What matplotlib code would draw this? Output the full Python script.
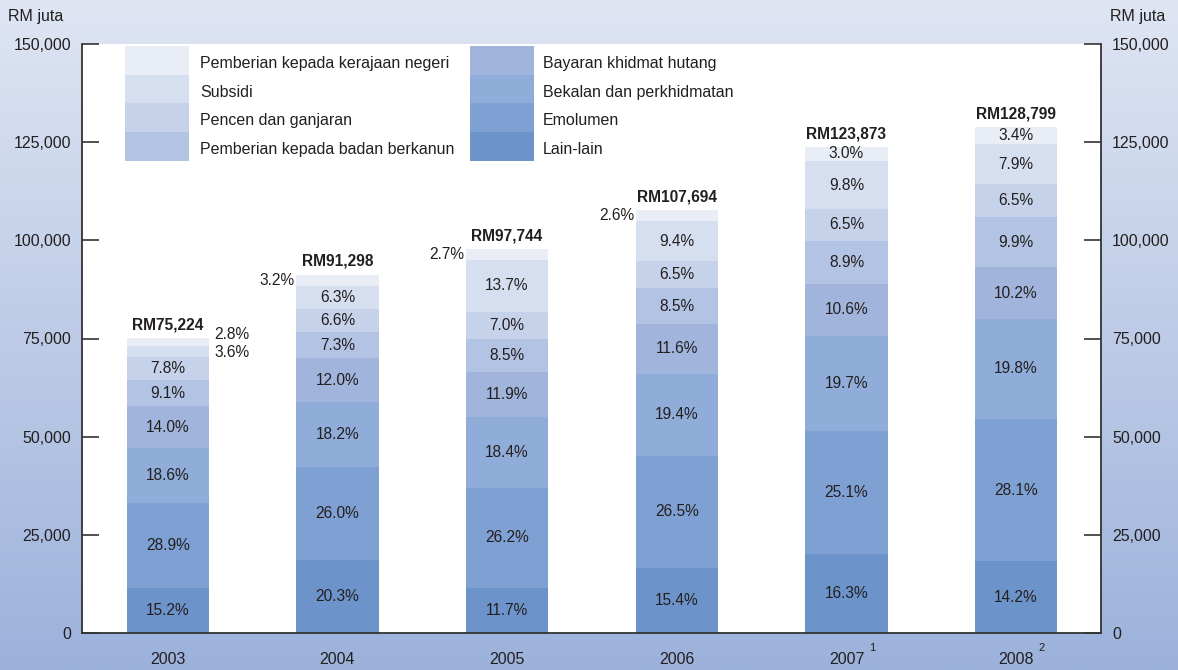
import numpy as np
import matplotlib.pyplot as plt
from matplotlib.colors import LinearSegmentedColormap
from matplotlib.patches import Rectangle

plt.rcParams['font.family'] = ['Liberation Sans', 'DejaVu Sans']

years = ['2003', '2004', '2005', '2006', '2007', '2008']
notes = ['', '', '', '', '1', '2']
totals = [75224, 91298, 97744, 107694, 123873, 128799]

# shares in %, bottom of the stack first
lain_lain = [15.2, 20.3, 11.7, 15.4, 16.3, 14.2]
emolumen = [28.9, 26.0, 26.2, 26.5, 25.1, 28.1]
bekalan = [18.6, 18.2, 18.4, 19.4, 19.7, 19.8]
hutang = [14.0, 12.0, 11.9, 11.6, 10.6, 10.2]
badan_berkanun = [9.1, 7.3, 8.5, 8.5, 8.9, 9.9]
pencen = [7.8, 6.6, 7.0, 6.5, 6.5, 6.5]
subsidi = [3.6, 6.3, 13.7, 9.4, 9.8, 7.9]
kerajaan_negeri = [2.8, 3.2, 2.7, 2.6, 3.0, 3.4]

categories = ['Lain-lain', 'Emolumen', 'Bekalan dan perkhidmatan',
              'Bayaran khidmat hutang', 'Pemberian kepada badan berkanun',
              'Pencen dan ganjaran', 'Subsidi',
              'Pemberian kepada kerajaan negeri']
shares = [lain_lain, emolumen, bekalan, hutang, badan_berkanun, pencen,
          subsidi, kerajaan_negeri]

colors = ['#6c94cb', '#7fa0d3', '#90acd8', '#a1b5dc', '#b2c3e3', '#c5d2e9',
          '#d6dff0', '#e8edf6']

# labels drawn beside the bar: (year, segment) -> (side, dy in points)
outside = {(0, 7): ('right', 5), (0, 6): ('right', -1),
           (1, 7): ('left', 0), (2, 7): ('left', 0), (3, 7): ('left', 0)}

W, H = 1178, 670
fig = plt.figure(figsize=(W / 100, H / 100), dpi=100)

# gradient background
bg = fig.add_axes([0, 0, 1, 1], zorder=-10)
cmap = LinearSegmentedColormap.from_list('bg', ['#dfe5f3', '#9cb2db'])
bg.imshow(np.linspace(0, 1, 256).reshape(-1, 1), aspect='auto', cmap=cmap,
          extent=[0, 1, 0, 1])
bg.axis('off')

def fx(x):
    return x / W

def fy(y):
    return 1 - y / H

ax = fig.add_axes([fx(82), fy(633), fx(1101) - fx(82), fy(44) - fy(633)])
ax.set_facecolor('white')

pct_size = 11.2
x = np.arange(len(years))
sums = np.sum(shares, axis=0)
bottom = np.zeros(len(years))
for k, (cat, s) in enumerate(zip(categories, shares)):
    vals = np.array(totals) * np.array(s) / sums
    ax.bar(x, vals, bottom=bottom, width=0.485, color=colors[k], label=cat,
           zorder=2)
    for i in range(len(years)):
        yc = bottom[i] + vals[i] / 2
        lab = f'{s[i]:.1f}%'
        if (i, k) in outside:
            side, dy = outside[(i, k)]
            if side == 'right':
                ax.annotate(lab, (x[i] + 0.2425, yc), xytext=(4, dy),
                            textcoords='offset points', ha='left', va='center',
                            fontsize=pct_size, color='#231f20')
            else:
                ax.annotate(lab, (x[i] - 0.2425, yc), xytext=(-1, dy),
                            textcoords='offset points', ha='right', va='center',
                            fontsize=pct_size, color='#231f20')
        else:
            ax.text(x[i], yc, lab, ha='center', va='center', fontsize=pct_size,
                    color='#231f20', zorder=3)
    bottom += vals

for i, t in enumerate(totals):
    ax.annotate(f'RM{t:,}', (x[i], t), xytext=(0, 4),
                textcoords='offset points', ha='center', va='bottom',
                fontsize=11.2, fontweight='bold', color='#231f20')

ax.set_xlim(-0.505, 5.5)
ax.set_ylim(0, 150000)
yt = np.arange(0, 150001, 25000)
ax.set_yticks(yt)
ax.set_yticklabels([f'{v:,}' for v in yt])
ax.tick_params(axis='y', direction='in', length=12, width=1.2, color='#333333',
               labelsize=11.5, labelcolor='#231f20', pad=8,
               left=True, right=True, labelleft=True, labelright=True)
ax.set_xticks(x)
ax.set_xticklabels(years)
ax.tick_params(axis='x', length=0, pad=14, labelsize=11.5, labelcolor='#231f20')
for i, n in enumerate(notes):
    if n:
        ax.annotate(n, (x[i], 0), xytext=(16, -11), textcoords='offset points',
                    ha='left', va='center', fontsize=8, color='#231f20',
                    annotation_clip=False)

ax.spines['top'].set_visible(False)
for sp in ['left', 'right', 'bottom']:
    ax.spines[sp].set_color('#333333')
    ax.spines[sp].set_linewidth(1.3)

fig.text(fx(36), fy(16), 'RM juta', ha='center', va='center', fontsize=11.5,
         color='#231f20')
fig.text(fx(1138), fy(16), 'RM juta', ha='center', va='center', fontsize=11.5,
         color='#231f20')

# legend: two columns of stacked swatches
row_h = 28.7
cols = [([7, 6, 5, 4], 125, 200), ([3, 2, 1, 0], 470, 543)]
for order, px, tx in cols:
    for r, k in enumerate(order):
        top = 46 + r * row_h
        fig.add_artist(Rectangle((fx(px), fy(top + row_h)), fx(64), row_h / H,
                                 transform=fig.transFigure,
                                 facecolor=colors[k], edgecolor='none'))
        fig.text(fx(tx), fy(top + row_h / 2 + 3), categories[k], ha='left',
                 va='center', fontsize=11.5, color='#231f20')

fig.savefig('out.png', dpi=100)
